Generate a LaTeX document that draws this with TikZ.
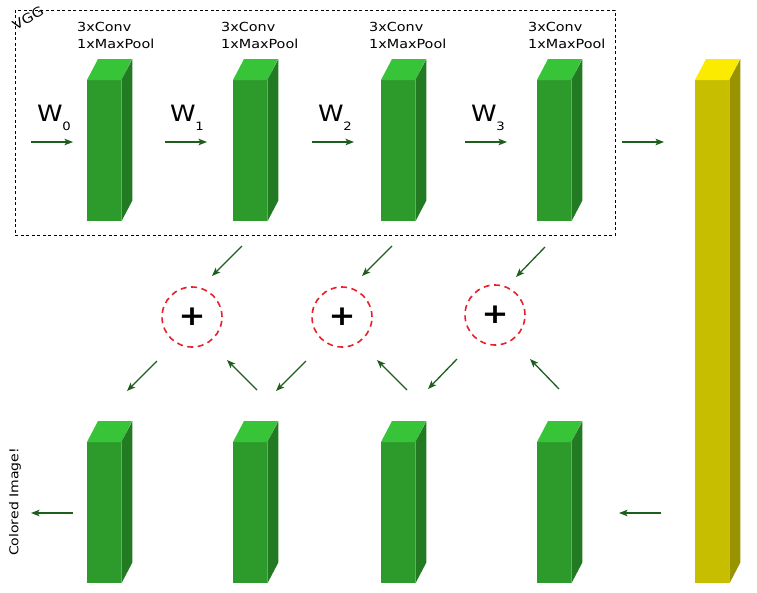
\documentclass[tikz,border=0pt]{standalone}
\usepackage{fontspec}
\setmainfont{DejaVu Sans}[FakeStretch=1.15]
\usetikzlibrary{arrows.meta}
\definecolor{gfront}{HTML}{2C9B2C}
\definecolor{gtop}{HTML}{38C438}
\definecolor{gside}{HTML}{227A22}
\definecolor{yfront}{HTML}{C8BE00}
\definecolor{ytop}{HTML}{FAEB00}
\definecolor{yside}{HTML}{9A9300}
\definecolor{arrgreen}{HTML}{1D5E1D}
\definecolor{sumred}{HTML}{E8212B}
\newcommand\prismfaces[3]{% node name, top colour, side colour
  \fill[#2] (#1.north west) -- ++(11,-21) -- ++(34,0) -- (#1.north east) -- cycle;
  \fill[#3] (#1.north east) -- ++(11,-21) |- ([xshift=11pt,yshift=21pt]#1.south east) -- (#1.south east) -- cycle;}
\begin{document}
\begin{tikzpicture}[x=1pt,y=-1pt,
  gblock/.style={fill=gfront, inner sep=0pt, minimum width=34pt, minimum height=141pt, anchor=north west},
  yblock/.style={fill=yfront, inner sep=0pt, minimum width=34pt, minimum height=503pt, anchor=north west},
  arr/.style={draw=arrgreen, line width=1.3pt, -{Stealth[length=8.5pt,width=6.5pt,inset=2pt]}},
  lbl/.style={font=\fontsize{12.5}{17}\selectfont, align=left, inner sep=0pt, anchor=north west},
  wlbl/.style={inner sep=0pt, anchor=base west},
  sumnode/.style={circle, draw=sumred, line width=1.6pt, dash pattern=on 6pt off 4.5pt, minimum size=60pt, inner sep=0pt, font=\fontsize{28}{28}\selectfont\bfseries},
  vggbox/.style={draw=black, line width=0.9pt, dash pattern=on 3pt off 2.5pt, inner sep=0pt, minimum width=600pt, minimum height=225pt, anchor=north west}
]
\useasboundingbox (0,0) rectangle (757,592);
\fill[white] (0,0) rectangle (757,592);

% VGG box
\node[vggbox] (vgg) at (15,10) {};
\node[rotate=30, inner sep=0pt, font=\fontsize{13}{15}\selectfont] (vgglbl) at (28,18) {VGG};

% top row blocks
\node[gblock] (t1) at (87,80) {};
\node[gblock] (t2) at (233,80) {};
\node[gblock] (t3) at (381,80) {};
\node[gblock] (t4) at (537,80) {};
% bottom row blocks
\node[gblock] (b1) at (87,442) {};
\node[gblock] (b2) at (233,442) {};
\node[gblock] (b3) at (381,442) {};
\node[gblock] (b4) at (537,442) {};
% yellow
\node[yblock] (y) at (695,80) {};
\foreach \n in {t1,t2,t3,t4,b1,b2,b3,b4}{\prismfaces{\n}{gtop}{gside}}
\prismfaces{y}{ytop}{yside}

% labels
\node[lbl] (l1) at (77,22) {3xConv\\1xMaxPool};
\node[lbl] (l2) at (221,22) {3xConv\\1xMaxPool};
\node[lbl] (l3) at (369,22) {3xConv\\1xMaxPool};
\node[lbl] (l4) at (528,22) {3xConv\\1xMaxPool};

\newcommand\wsub[1]{{\fontsize{22.5}{26}\selectfont W}\kern-0.5pt\raisebox{-9.5pt}{\fontsize{11.5}{13}\selectfont #1}}
\node[wlbl] (w0) at (37,121) {\wsub{0}};
\node[wlbl] (w1) at (170,121) {\wsub{1}};
\node[wlbl] (w2) at (318,121) {\wsub{2}};
\node[wlbl] (w3) at (471,121) {\wsub{3}};

% horizontal arrows
\coordinate (h0s) at (31,142); \coordinate (h0e) at (73,142);
\coordinate (h1s) at (165,142); \coordinate (h1e) at (207,142);
\coordinate (h2s) at (312,142); \coordinate (h2e) at (354,142);
\coordinate (h3s) at (465,142); \coordinate (h3e) at (507,142);
\coordinate (h4s) at (622,142); \coordinate (h4e) at (664,142);
\foreach \i in {0,...,4}{\draw[arr] (h\i s) -- (h\i e);}

% sum nodes
\node[sumnode] (s1) at (192,317) {+};
\node[sumnode] (s2) at (342,317) {+};
\node[sumnode] (s3) at (495,315) {+};

% diagonal arrows
\coordinate (d1s) at (242,246); \coordinate (d1e) at (212,276);
\coordinate (d2s) at (392,246); \coordinate (d2e) at (362,276);
\coordinate (d3s) at (545,247); \coordinate (d3e) at (516,277);
\foreach \i in {1,2,3}{\draw[arr] (d\i s) -- (d\i e);}
\coordinate (o1s) at (157,361); \coordinate (o1e) at (127,391);
\coordinate (o2s) at (306,361); \coordinate (o2e) at (276,391);
\coordinate (o3s) at (457,359); \coordinate (o3e) at (428,389);
\foreach \i in {1,2,3}{\draw[arr] (o\i s) -- (o\i e);}
\coordinate (u1s) at (257,390); \coordinate (u1e) at (227,360);
\coordinate (u2s) at (407,390); \coordinate (u2e) at (377,360);
\coordinate (u3s) at (559,389); \coordinate (u3e) at (530,359);
\foreach \i in {1,2,3}{\draw[arr] (u\i s) -- (u\i e);}

% bottom horizontal arrows
\coordinate (r1s) at (661,513); \coordinate (r1e) at (619,513);
\coordinate (r0s) at (73,513); \coordinate (r0e) at (31,513);
\draw[arr] (r1s) -- (r1e);
\draw[arr] (r0s) -- (r0e);

\node[rotate=90, inner sep=0pt, font=\fontsize{12.2}{14}\selectfont] (out) at (15,502) {Colored Image!};
\end{tikzpicture}
\end{document}
